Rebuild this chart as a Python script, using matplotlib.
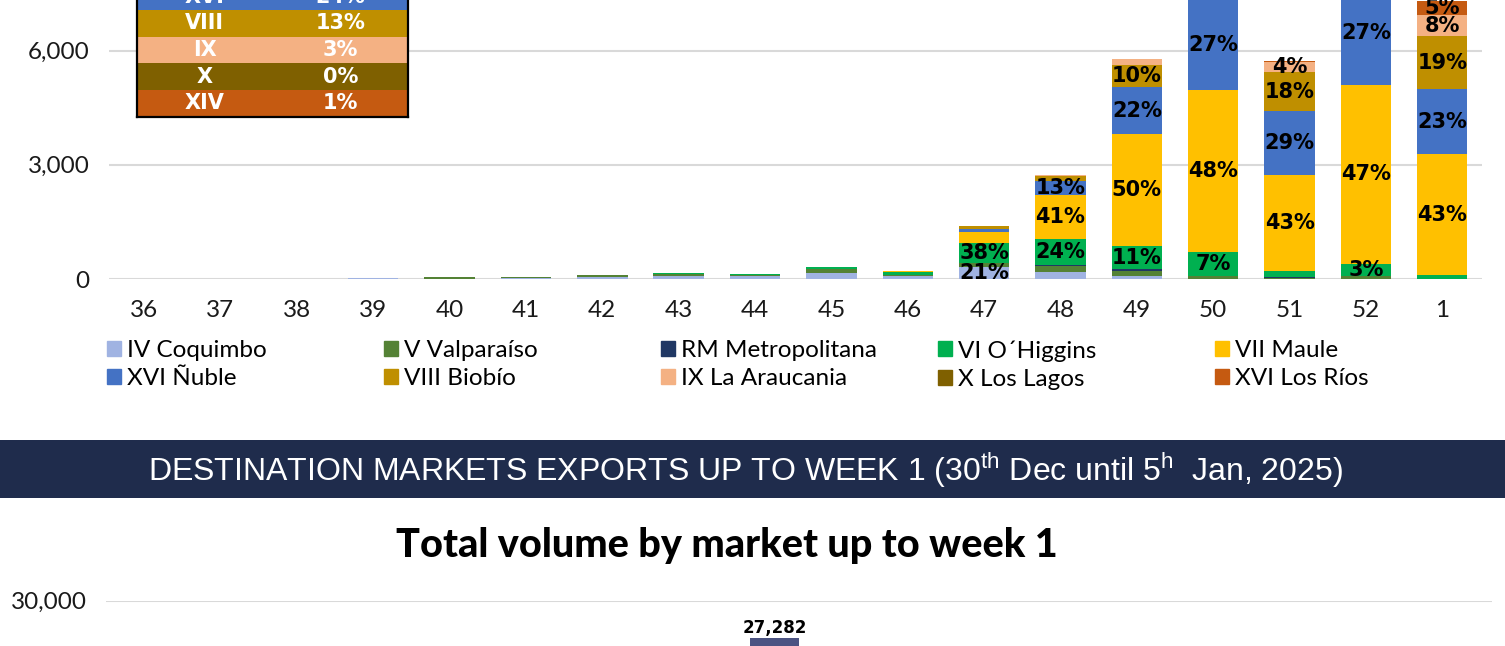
import numpy as np
import matplotlib.pyplot as plt
from matplotlib.patches import Patch, Rectangle

plt.rcParams['mathtext.fontset'] = 'custom'
plt.rcParams['mathtext.rm'] = 'Liberation Sans'

W, H = 1505, 646

# weekly volumes (tons) by region
weeks = ['36', '37', '38', '39', '40', '41', '42', '43', '44', '45', '46', '47', '48', '49', '50', '51', '52', '1']
iv_coquimbo = [0, 3, 0, 15, 10, 20, 45, 78, 70, 165, 78, 304, 191, 87, 0, 10, 0, 0]
v_valparaiso = [0, 2, 0, 20, 40, 30, 60, 43, 45, 96, 15, 104, 139, 130, 78, 20, 78, 0]
rm_metropolitana = [0, 0, 0, 0, 0, 0, 0, 0, 0, 0, 0, 0, 43, 35, 10, 10, 10, 0]
vi_ohiggins = [0, 0, 0, 0, 5, 5, 10, 25, 25, 43, 87, 548, 687, 617, 609, 174, 304, 110]
vii_maule = [0, 0, 0, 0, 0, 0, 0, 0, 0, 0, 35, 278, 1139, 2930, 4261, 2504, 4713, 3165]
xvi_nuble = [0, 0, 0, 0, 0, 0, 0, 0, 0, 0, 0, 78, 365, 1243, 2397, 1687, 2707, 1704]
viii_biobio = [0, 0, 0, 0, 0, 0, 0, 0, 0, 0, 0, 78, 148, 583, 1150, 1026, 1500, 1391]
ix_araucania = [0, 0, 0, 0, 0, 0, 0, 0, 0, 0, 0, 10, 26, 139, 270, 278, 500, 557]
x_los_lagos = [0, 0, 0, 0, 0, 0, 0, 0, 0, 0, 0, 0, 0, 0, 20, 0, 100, 0]
xiv_los_rios = [0, 0, 0, 0, 0, 0, 0, 0, 0, 0, 0, 0, 0, 0, 60, 26, 200, 380]

# percentage labels shown on the segments
lbl_iv = [''] * 11 + ['21%', '', '', '', '', '', '']
lbl_vi = [''] * 11 + ['38%', '24%', '11%', '7%', '', '3%', '']
lbl_vii = [''] * 11 + ['', '41%', '50%', '48%', '43%', '47%', '43%']
lbl_xvi = [''] * 11 + ['', '13%', '22%', '27%', '29%', '27%', '23%']
lbl_viii = [''] * 11 + ['', '', '10%', '', '18%', '', '19%']
lbl_ix = [''] * 11 + ['', '', '', '', '4%', '', '8%']
lbl_xiv = [''] * 11 + ['', '', '', '', '', '', '5%']
empty = [''] * 18

series = [
    ('IV Coquimbo', iv_coquimbo, '#A0B3E2', lbl_iv),
    ('V Valparaíso', v_valparaiso, '#548235', empty),
    ('RM Metropolitana', rm_metropolitana, '#203864', empty),
    ('VI O´Higgins', vi_ohiggins, '#00B050', lbl_vi),
    ('VII Maule', vii_maule, '#FFC000', lbl_vii),
    ('XVI Ñuble', xvi_nuble, '#4472C4', lbl_xvi),
    ('VIII Biobío', viii_biobio, '#BF8F00', lbl_viii),
    ('IX La Araucania', ix_araucania, '#F4B183', lbl_ix),
    ('X Los Lagos', x_los_lagos, '#7F6000', empty),
    ('XVI Los Ríos', xiv_los_rios, '#C55A11', lbl_xiv),
]

# season share table
table_regions = ['IV', 'V', 'RM', 'VI', 'VII', 'XVI', 'VIII', 'IX', 'X', 'XIV']
table_shares = ['3%', '2%', '0%', '8%', '46%', '24%', '13%', '3%', '0%', '1%']

# destination market chart
markets = ['Market']
market_volume = [27282]

fig = plt.figure(figsize=(W / 100, H / 100), dpi=100)

# ---- weekly stacked chart ----
ax = fig.add_axes([109 / W, 1 - 279 / H, 1373 / W, 457 / H])
x = np.arange(len(weeks))
bottom = np.zeros(len(weeks))
handles = {}
for name, vals, col, lbls in series:
    vals = np.array(vals, dtype=float)
    ax.bar(x, vals, 0.66, bottom=bottom, color=col, zorder=3)
    handles[name] = Patch(color=col)
    for i, t in enumerate(lbls):
        if t:
            ax.text(x[i], bottom[i] + vals[i] / 2, t, ha='center', va='center',
                    fontsize=15, fontweight='bold', color='black', zorder=5)
    bottom += vals

ax.set_xlim(-0.46, 17.52)
ax.set_ylim(0, 12000)
ax.set_yticks([0, 3000, 6000, 9000, 12000])
ax.set_yticklabels(['{:,}'.format(v) for v in [0, 3000, 6000, 9000, 12000]])
ax.set_xticks(x)
ax.set_xticklabels(weeks)
ax.grid(axis='y', color='#D9D9D9', linewidth=1.5, zorder=0)
for s in ax.spines.values():
    s.set_visible(False)
ax.tick_params(length=0)
ax.tick_params(axis='y', pad=14, labelsize=17.5, labelcolor='#1a1a1a')
ax.tick_params(axis='x', pad=15, labelsize=17.5, labelcolor='#1a1a1a')
for t in ax.get_xticklabels() + ax.get_yticklabels():
    t.set_fontfamily('Lato')

# legend, five columns of two entries
legend_cols = [('IV Coquimbo', 'XVI Ñuble'), ('V Valparaíso', 'VIII Biobío'),
               ('RM Metropolitana', 'IX La Araucania'), ('VI O´Higgins', 'X Los Lagos'),
               ('VII Maule', 'XVI Los Ríos')]
col_x = [107, 384, 661, 938, 1215]
for cx, names in zip(col_x, legend_cols):
    fig.legend([handles[n] for n in names], list(names), loc='upper left',
               bbox_to_anchor=(cx / W, 1 - 340 / H), frameon=False,
               borderpad=0, borderaxespad=0, handlelength=0.58, handleheight=0.58,
               handletextpad=0.25, labelspacing=0.3,
               prop={'family': 'Lato', 'size': 17.5})

# share table inset
ax_t = fig.add_axes([137 / W, 1 - 116.7 / H, 271 / W, 267 / H])
colors = [c for _, _, c, _ in series]
tb = ax_t.table(cellText=[[r, s] for r, s in zip(table_regions, table_shares)],
                cellColours=[[c, c] for c in colors], cellLoc='center', bbox=[0, 0, 1, 1])
tb.auto_set_font_size(False)
for (r, c), cell in tb.get_celld().items():
    cell.set_edgecolor(cell.get_facecolor())
    cell.set_linewidth(0)
    cell.get_text().set_color('white')
    cell.get_text().set_fontweight('bold')
    cell.get_text().set_fontsize(15)
ax_t.set_xticks([])
ax_t.set_yticks([])
for s in ax_t.spines.values():
    s.set_linewidth(1.6)
    s.set_color('black')
    s.set_zorder(10)

# ---- banner ----
fig.patches.append(Rectangle((0, 1 - 498 / H), 1, 58 / H, transform=fig.transFigure,
                             facecolor='#1F2C4C', edgecolor='none', zorder=0))
fig.text(745 / W, 1 - 470 / H,
         r'DESTINATION MARKETS EXPORTS UP TO WEEK 1 ($\mathrm{30}^{\mathrm{th}}$ Dec until $\mathrm{5}^{\mathrm{h}}$  Jan, 2025)',
         ha='center', va='center', color='white', fontsize=23, family='Liberation Sans')

fig.text(727 / W, 1 - 545 / H, 'Total volume by market up to week 1', ha='center', va='center',
         fontsize=28.5, fontweight='black', family='Lato', color='black')

# ---- market chart ----
ax2 = fig.add_axes([106 / W, 1 - 1017.5 / H, 1386 / W, 417 / H])
xm = np.arange(len(markets))
bars = ax2.bar(xm, market_volume, 0.6, color='#4B5382', zorder=3)
ax2.bar_label(bars, labels=['{:,}'.format(v) for v in market_volume], padding=1,
              fontsize=12, fontweight='bold')
ax2.set_xlim(-8.04, 8.63)
ax2.set_ylim(0, 30000)
ax2.set_yticks([0, 10000, 20000, 30000])
ax2.set_yticklabels(['{:,}'.format(v) for v in [0, 10000, 20000, 30000]])
ax2.set_xticks(xm)
ax2.set_xticklabels(markets)
ax2.grid(axis='y', color='#D9D9D9', linewidth=1.5, zorder=0)
for s in ax2.spines.values():
    s.set_visible(False)
ax2.tick_params(length=0)
ax2.tick_params(axis='y', pad=14, labelsize=17.5, labelcolor='#1a1a1a')
for t in ax2.get_yticklabels():
    t.set_fontfamily('Lato')

fig.savefig('out.png', dpi=100)
